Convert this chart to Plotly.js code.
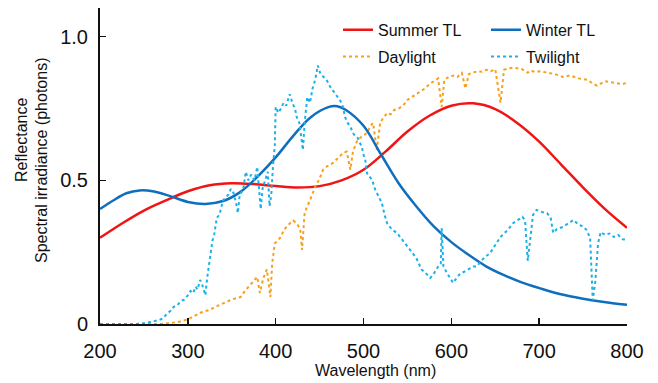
<!DOCTYPE html>
<html>
<head>
<meta charset="utf-8">
<script src="https://cdn.plot.ly/plotly-3.0.1.min.js"></script>
<style>html,body{margin:0;padding:0;background:#fff;}#chart{width:658px;height:383px;}</style>
</head>
<body>
<div id="chart"></div>
<script>
// Summer TL (smooth)
const summerX = [200,225,250,275,300,325,350,375,400,425,450,475,500,525,550,575,600,625,650,675,700,725,750,775,800];
const summerY = [0.30,0.35,0.395,0.43,0.462,0.483,0.49,0.487,0.48,0.475,0.48,0.50,0.537,0.60,0.67,0.725,0.76,0.768,0.748,0.70,0.635,0.555,0.475,0.40,0.335];

// Winter TL (smooth)
const winterX = [200,215,230,245,260,280,300,320,340,360,380,400,420,440,460,470,480,500,520,540,560,580,600,620,640,660,680,700,720,740,760,780,800];
const winterY = [0.40,0.43,0.455,0.465,0.462,0.445,0.425,0.418,0.428,0.46,0.515,0.58,0.655,0.72,0.755,0.758,0.745,0.69,0.59,0.49,0.41,0.34,0.285,0.24,0.20,0.17,0.145,0.125,0.107,0.094,0.083,0.074,0.067];

// Daylight spectrum
const dayX = [200,210,220,230,240,250,260,270,280,290,300,305,310,315,320,325,330,335,340,345,350,355,360,365,371,375,379,382,386,390,394,396,399,405,410,416,420,424,428,430,433,436,439,445,449,454,459,465,470,477,481,485,488,493,497,504,508,511,515,519,522,527,531,535,540,545,550,555,560,565,570,575,580,585,589,592,597,602,607,612,616,620,625,630,635,640,645,650,656,660,665,670,675,680,687,690,695,700,710,720,727,735,745,755,762,766,775,785,795,800];
const dayY = [0,0,0,0,0,0,0,0,0.003,0.008,0.016,0.025,0.032,0.04,0.045,0.049,0.058,0.065,0.073,0.08,0.085,0.09,0.094,0.115,0.136,0.15,0.164,0.108,0.16,0.19,0.094,0.21,0.28,0.30,0.33,0.35,0.36,0.35,0.33,0.258,0.386,0.41,0.43,0.477,0.50,0.537,0.55,0.56,0.575,0.596,0.60,0.537,0.60,0.64,0.65,0.665,0.69,0.70,0.606,0.70,0.715,0.735,0.73,0.745,0.75,0.76,0.78,0.79,0.80,0.81,0.82,0.835,0.845,0.855,0.756,0.85,0.86,0.865,0.86,0.874,0.82,0.87,0.875,0.88,0.878,0.885,0.88,0.887,0.77,0.885,0.89,0.892,0.89,0.888,0.875,0.882,0.878,0.88,0.875,0.868,0.86,0.865,0.855,0.85,0.835,0.83,0.845,0.84,0.835,0.84];

// Twilight spectrum
const twiX = [200,220,240,250,260,268,272,276,280,284,288,292,296,300,303,306,309,311,314,316,318,320,322,324,326,328,330,333,336,340,343,346,349,352,355,357,359,363,366,369,372,376,379,381,383,385,388,391,393,395,397,399,400,403,406,409,412,416,419,422,424,427,428,431,433,436,439,442,445,448,451,454,458,462,466,470,473,476,479,482,485,489,493,496,498,500,502,504,507,510,513,515,518,521,524,527,532,538,545,553,560,566,570,576,580,585,588,589,591,595,599,602,606,610,614,620,625,629,634,639,644,650,656,660,665,670,675,681,684,687,690,693,697,703,709,713,716,720,727,733,739,745,750,754,758,761,764,767,770,775,780,785,790,795,800];
const twiY = [0,0,0,0.003,0.008,0.015,0.02,0.035,0.045,0.06,0.065,0.08,0.085,0.10,0.115,0.107,0.13,0.12,0.153,0.14,0.12,0.10,0.16,0.20,0.24,0.29,0.31,0.37,0.38,0.43,0.44,0.45,0.47,0.456,0.42,0.386,0.45,0.467,0.53,0.50,0.52,0.50,0.547,0.456,0.40,0.47,0.50,0.53,0.41,0.45,0.55,0.62,0.756,0.735,0.75,0.77,0.76,0.80,0.77,0.75,0.72,0.70,0.676,0.606,0.70,0.79,0.77,0.82,0.85,0.90,0.87,0.86,0.85,0.826,0.81,0.79,0.78,0.763,0.72,0.70,0.686,0.66,0.65,0.63,0.617,0.59,0.571,0.525,0.51,0.50,0.47,0.456,0.44,0.42,0.38,0.35,0.33,0.317,0.29,0.258,0.23,0.19,0.18,0.16,0.175,0.20,0.21,0.334,0.20,0.178,0.16,0.143,0.16,0.175,0.181,0.19,0.20,0.20,0.22,0.235,0.246,0.275,0.303,0.315,0.33,0.35,0.36,0.373,0.36,0.22,0.30,0.38,0.397,0.39,0.386,0.37,0.317,0.33,0.338,0.35,0.362,0.345,0.34,0.327,0.30,0.083,0.15,0.28,0.32,0.31,0.315,0.303,0.31,0.295,0.293];

const xTicks = [200,300,400,500,600,700,800];
const yTicks = [0,0.5,1.0];
const yTickText = ['0','0.5','1.0'];

const FONT = 'Liberation Sans, Arial, sans-serif';

const traces = [
  {x: summerX, y: summerY, name: 'Summer TL', mode: 'lines', line: {color: '#f01414', width: 2.5, shape: 'spline'}, legend: 'legend', legendgroup: 'a'},
  {x: dayX, y: dayY, name: 'Daylight', mode: 'lines', line: {color: '#f6a01e', width: 2, dash: 'dot'}, legend: 'legend', legendgroup: 'b'},
  {x: winterX, y: winterY, name: 'Winter TL', mode: 'lines', line: {color: '#0f6fbe', width: 2.5, shape: 'spline'}, legend: 'legend2', legendgroup: 'c'},
  {x: twiX, y: twiY, name: 'Twilight', mode: 'lines', line: {color: '#1cb0e8', width: 2, dash: 'dot'}, legend: 'legend2', legendgroup: 'd'}
];

const legendCommon = {
  font: {family: FONT, size: 16, color: '#111'},
  bgcolor: 'rgba(0,0,0,0)',
  borderwidth: 0,
  traceorder: 'grouped',
  tracegroupgap: 3,
  xanchor: 'left', yanchor: 'top', y: 0.985
};

const layout = {
  width: 658, height: 383,
  margin: {l: 100, r: 31, t: 8, b: 59},
  paper_bgcolor: '#fff', plot_bgcolor: '#fff',
  font: {family: FONT, size: 20, color: '#111'},
  showlegend: true,
  legend: Object.assign({}, legendCommon, {x: 0.4516}),
  legend2: Object.assign({}, legendCommon, {x: 0.7324}),
  xaxis: {
    range: [200, 800], tickvals: xTicks, ticks: 'inside', ticklen: 6, tickwidth: 1.5, tickcolor: '#111',
    showline: true, linecolor: '#111', linewidth: 2, showgrid: false, zeroline: false,
    tickfont: {family: FONT, size: 20, color: '#111'}, ticklabelstandoff: 8
  },
  yaxis: {
    range: [0, 1.1], tickvals: yTicks, ticktext: yTickText, ticks: 'inside', ticklen: 6, tickwidth: 1.5, tickcolor: '#111',
    showline: true, linecolor: '#111', linewidth: 2, showgrid: false, zeroline: false,
    tickfont: {family: FONT, size: 20, color: '#111'}, ticklabelstandoff: 6
  },
  annotations: [
    {text: 'Reflectance', xref: 'paper', yref: 'paper', x: -0.150, y: 0.585, xanchor: 'center', yanchor: 'middle', textangle: -90, showarrow: false, font: {family: FONT, size: 16, color: '#111'}},
    {text: 'Spectral irradiance (photons)', xref: 'paper', yref: 'paper', x: -0.110, y: 0.516, xanchor: 'center', yanchor: 'middle', textangle: -90, showarrow: false, font: {family: FONT, size: 16, color: '#111'}},
    {text: 'Wavelength (nm)', xref: 'paper', yref: 'paper', x: 0.522, y: -0.146, xanchor: 'center', yanchor: 'middle', showarrow: false, font: {family: FONT, size: 16, color: '#111'}}
  ]
};

Plotly.newPlot('chart', traces, layout, {displayModeBar: false, staticPlot: true});
</script>
</body>
</html>
